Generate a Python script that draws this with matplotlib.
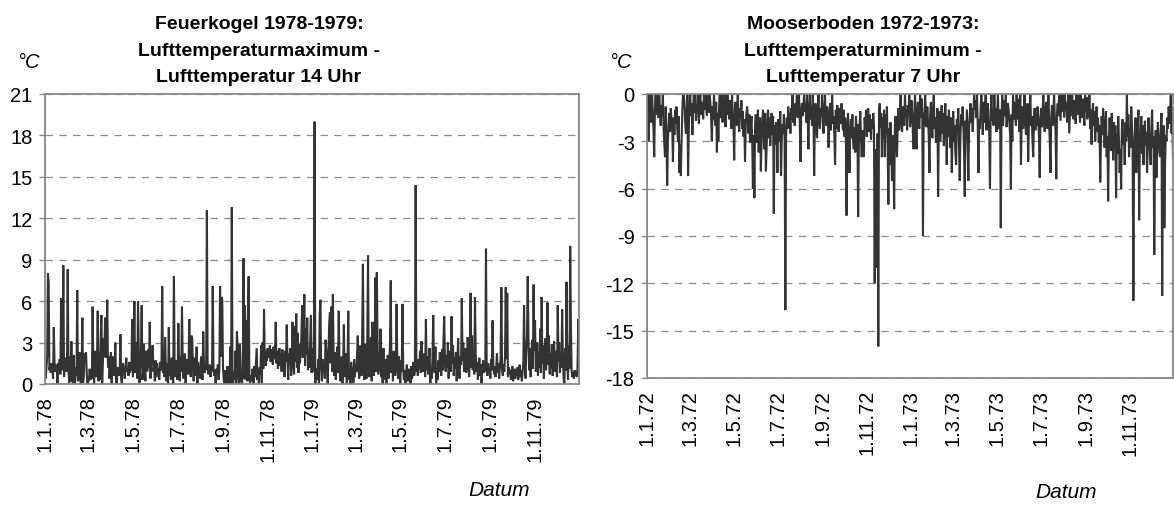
import matplotlib
matplotlib.use('Agg')
import matplotlib.pyplot as plt
import pandas as pd

plt.rcParams['font.family'] = ['Liberation Sans', 'DejaVu Sans']

# Feuerkogel 1978-1979: daily Tmax - T(14 Uhr), degC
feuer_start = '1978-01-01'
feuer_vals = [
    0.5, 0.4, 1.2, 2.0, 8.0, 7.4, 1.0, 1.3, 0.8, 1.5, 1.1, 0.4, 4.1, 1.6, 0.9, 1.4, 1.2, 0.0, 1.5, 1.0, 1.8, 0.7, 6.2, 1.0, 1.6, 8.6, 0.5, 1.9, 1.2, 0.9,
    1.0, 8.3, 1.1, 0.1, 2.0, 0.2, 3.1, 0.4, 0.1, 2.1, 0.3, 0.0, 1.2, 0.6, 6.8, 0.2, 1.1, 2.3, 0.3, 0.0, 1.0, 4.8, 0.1, 0.6, 2.2, 1.9, 2.3, 0.8, 0.0, 0.5,
    0.2, 1.1, 0.3, 0.9, 0.4, 5.6, 1.2, 0.0, 1.4, 2.4, 0.5, 1.8, 5.3, 0.2, 2.2, 0.3, 3.3, 5.0, 0.0, 1.5, 3.3, 2.0, 4.8, 1.9, 3.3, 6.1, 1.2, 2.0, 0.4, 1.1,
    2.3, 0.0, 2.0, 1.0, 0.6, 0.9, 3.0, 0.1, 0.0, 1.2, 0.8, 0.6, 1.0, 3.6, 0.3, 0.0, 1.5, 1.2, 1.0, 0.4, 1.4, 1.9, 0.9, 1.1, 0.6, 1.6, 0.8, 1.2, 1.0, 4.7,
    0.5, 1.7, 6.0, 0.8, 1.0, 3.0, 0.4, 6.0, 2.6, 0.1, 1.4, 2.2, 5.7, 0.3, 1.0, 2.9, 1.3, 0.2, 2.4, 1.6, 0.9, 2.5, 1.2, 4.5, 0.4, 1.8, 1.4, 2.8, 0.9, 1.3,
    0.2, 1.7, 0.5, 1.5, 0.9, 1.1, 0.3, 1.6, 1.0, 1.2, 7.1, 0.8, 1.3, 0.5, 3.4, 1.1, 0.2, 1.5, 0.0, 4.1, 0.6, 1.4, 0.3, 1.9, 0.8, 0.0, 7.8, 1.0, 0.5, 1.7,
    1.2, 0.3, 4.4, 1.4, 0.2, 2.0, 0.9, 5.6, 1.6, 0.4, 1.1, 2.2, 0.0, 1.3, 1.8, 0.7, 1.5, 4.7, 1.0, 0.5, 3.5, 3.3, 1.2, 0.2, 1.9, 0.6, 1.1, 2.7, 0.0, 1.6,
    0.9, 1.3, 0.4, 2.0, 1.1, 0.3, 3.8, 1.5, 0.8, 1.2, 1.0, 12.6, 1.3, 0.7, 1.0, 1.4, 0.5, 1.1, 0.9, 7.1, 1.2, 0.6, 1.0, 0.0, 1.1, 0.8, 1.4, 0.3, 1.0, 7.1,
    2.0, 6.3, 6.1, 1.2, 0.3, 0.0, 1.0, 0.2, 0.0, 1.3, 0.4, 0.0, 0.8, 2.7, 0.0, 12.8, 0.1, 0.0, 0.9, 0.3, 2.4, 0.0, 3.8, 2.6, 0.5, 0.0, 2.9, 1.1, 0.2, 0.0,
    0.8, 9.1, 0.4, 5.7, 0.3, 4.6, 0.2, 4.7, 7.8, 0.3, 0.1, 0.6, 0.2, 1.1, 0.4, 0.0, 1.3, 0.5, 1.5, 2.6, 0.3, 1.0, 0.0, 1.2, 0.7, 2.8, 0.1, 3.0, 1.1, 5.4,
    2.1, 1.3, 2.4, 1.7, 2.6, 1.9, 2.2, 2.8, 1.6, 2.5, 2.0, 1.4, 2.7, 1.8, 2.3, 4.5, 1.5, 2.4, 1.1, 2.0, 2.6, 1.3, 2.2, 0.9, 2.5, 1.7, 2.1, 0.5, 2.4, 1.6,
    4.3, 1.9, 0.3, 2.2, 1.5, 2.6, 0.6, 1.8, 4.5, 1.4, 0.7, 4.2, 1.6, 5.1, 1.2, 3.7, 0.8, 2.9, 1.5, 2.2, 3.4, 5.7, 1.9, 2.8, 6.5, 1.3, 4.0, 2.1, 4.8, 1.0,
    2.4, 1.2, 3.1, 5.0, 0.8, 2.6, 1.4, 0.9, 19.0, 0.0, 1.1, 0.6, 0.3, 1.8, 0.0, 5.0, 6.1, 1.3, 0.2, 1.8, 0.9, 1.5, 0.4, 3.2, 2.5, 1.1, 0.0, 2.4, 4.4, 5.2,
    1.5, 5.6, 0.9, 6.5, 1.8, 0.6, 2.3, 0.3, 1.4, 2.7, 0.8, 5.3, 1.6, 0.2, 1.1, 2.0, 0.0, 1.3, 4.3, 0.5, 1.0, 2.2, 0.0, 1.4, 5.3, 0.3, 0.9, 0.0, 1.6, 0.4,
    1.2, 0.1, 1.8, 0.5, 1.4, 0.9, 2.1, 3.5, 1.0, 0.4, 2.8, 1.7, 0.6, 3.3, 8.7, 1.2, 0.3, 2.9, 1.1, 0.4, 3.4, 9.3, 1.0, 0.5, 2.6, 3.4, 0.2, 4.5, 1.3, 0.6,
    1.4, 7.7, 0.9, 8.1, 3.0, 0.7, 2.2, 1.0, 4.0, 0.5, 1.9, 0.0, 2.6, 1.2, 0.3, 1.8, 0.0, 1.5, 2.1, 0.4, 1.2, 3.1, 7.5, 0.8, 1.6, 0.2, 2.4, 1.0, 0.6, 1.5,
    5.8, 1.1, 0.4, 2.0, 1.3, 0.0, 1.7, 0.9, 5.8, 1.2, 0.3, 1.0, 0.0, 0.8, 1.4, 0.2, 0.5, 1.1, 0.7, 0.0, 1.3, 0.4, 0.9, 1.6, 0.6, 1.0, 14.4, 0.9, 1.3, 0.6,
    1.8, 1.1, 2.4, 0.8, 3.1, 1.5, 0.9, 2.2, 1.3, 0.5, 4.7, 1.0, 2.0, 0.7, 1.6, 2.6, 0.0, 1.2, 0.4, 1.9, 5.0, 1.4, 0.8, 2.7, 0.0, 1.1, 0.3, 1.7, 0.9, 2.3,
    1.3, 0.6, 2.5, 1.0, 3.2, 4.9, 1.6, 0.9, 2.1, 1.2, 3.0, 0.4, 1.8, 2.4, 0.9, 4.9, 1.5, 2.8, 0.6, 1.9, 1.1, 2.3, 0.2, 1.6, 3.3, 1.0, 0.4, 2.0, 1.4, 6.2,
    1.7, 3.0, 0.9, 1.5, 2.6, 0.8, 1.3, 3.4, 1.9, 0.5, 2.1, 6.6, 1.2, 3.5, 1.0, 2.4, 0.7, 6.3, 2.2, 0.9, 1.6, 0.3, 1.2, 1.9, 0.6, 1.4, 0.0, 1.1, 1.7, 0.8,
    1.3, 0.9, 9.8, 1.1, 0.6, 1.5, 0.9, 1.2, 0.4, 1.8, 1.0, 4.6, 1.4, 0.7, 1.3, 0.5, 1.2, 2.2, 0.8, 1.5, 0.4, 1.1, 1.9, 7.0, 1.0, 0.6, 1.4, 0.9, 2.0, 7.0,
    1.8, 6.6, 0.5, 1.2, 0.8, 1.0, 0.3, 0.9, 1.3, 0.2, 0.7, 1.1, 0.4, 1.0, 0.6, 1.2, 0.3, 0.8, 1.4, 0.5, 1.0, 0.2, 0.9, 1.6, 5.7, 1.3, 0.4, 2.1, 3.5, 7.8,
    3.5, 1.0, 2.6, 0.5, 1.8, 3.2, 1.1, 7.2, 2.4, 4.6, 0.9, 1.7, 3.0, 0.6, 2.3, 1.2, 4.0, 0.8, 6.3, 1.5, 2.8, 0.4, 1.9, 3.3, 1.0, 2.5, 5.9, 1.4, 3.5, 0.7,
    2.2, 1.1, 2.9, 0.6, 1.8, 3.1, 0.9, 2.4, 1.3, 0.5, 5.7, 1.6, 3.0, 0.8, 2.2, 1.2, 5.4, 1.9, 0.4, 0.0, 2.6, 1.0, 7.4, 1.5, 0.3, 2.8, 1.1, 10.0, 4.0, 0.9,
    0.5, 0.8, 0.4, 1.0, 0.6, 0.9, 0.5, 1.2, 4.7, 0.8,
]

# Mooserboden 1972-1973: daily Tmin - T(7 Uhr), degC
moos_start = '1972-01-01'
moos_vals = [
    -2.1, 0.0, -3.0, -1.2, 0.0, -1.0, -1.8, 0.0, -1.1, -2.3, -4.0, -1.0, 0.0, -1.3, 0.0, -0.9, -1.5, 0.0, -1.1, -2.0, -0.7, -1.4, 0.0, -2.2, -3.1, -4.0, -0.8, -2.6, -5.8, -3.1,
    -2.0, -1.2, -2.4, -0.9, -1.6, -2.1, -4.3, -1.5, -2.6, -1.0, -1.9, -0.8, -2.2, -3.0, -1.4, -5.0, -3.2, -5.2, -2.9, -1.1, 0.0, 0.0, -0.6, -1.8, -2.5, -1.4, 0.0, -5.2, -2.3, -0.7,
    0.0, -1.4, -0.6, -2.6, -0.9, 0.0, -1.2, 0.0, -1.7, -0.8, -1.1, 0.0, -1.9, -0.6, 0.0, -1.3, -0.5, -0.9, -1.6, 0.0, -1.0, 0.0, -0.7, -1.4, 0.0, -0.8, -1.2, 0.0, -0.6, -1.5,
    -3.0, -0.8, -1.6, 0.0, -1.1, -2.0, -0.5, -3.7, -1.2, -3.0, -0.9, 0.0, -1.5, 0.0, -0.7, -1.8, 0.0, -1.0, -0.5, -2.1, 0.0, -1.3, 0.0, -0.8, -1.6, -0.4, -1.1, -2.2, 0.0, -1.4,
    -1.9, -4.2, -1.0, -0.5, -2.0, -1.3, 0.0, -1.7, -2.4, -0.9, -1.5, -0.4, -2.2, -1.1, -2.7, -1.6, -4.3, -2.0, -1.2, -0.8, -1.6, -2.5, -1.3, -3.1, -2.0, -1.4, -3.0, -6.0, -2.6, -6.6,
    -2.0, -1.3, -3.1, -2.4, -1.0, -3.7, -2.2, -1.5, -4.9, -3.0, -1.8, -1.0, -2.6, -3.5, -1.2, -4.9, -3.5, -2.0, -1.0, -2.8, -1.5, -3.3, -2.1, -1.2, -2.6, -1.4, -7.6, -2.0, -3.2, -1.8,
    -2.4, -5.0, -1.6, -3.0, -2.2, -1.1, -5.2, -3.0, -1.9, -2.5, -1.3, -2.8, -13.7, -2.7, -1.5, -2.2, -0.8, -1.9, -1.2, -2.5, -0.9, -1.6, 0.0, -1.8, -1.1, -2.0, -0.6, -1.3, 0.0, -1.5,
    -1.0, 0.0, -1.7, -4.3, -1.2, -0.6, -1.4, -0.9, 0.0, -1.1, -0.7, -1.8, 0.0, -1.3, -3.5, -1.0, 0.0, -1.6, -0.8, -2.0, 0.0, -1.2, -5.2, -1.5, -0.6, -1.9, -2.8, -1.0, 0.0, -1.7,
    -2.2, -0.9, -1.4, 0.0, -1.8, -2.5, -1.1, 0.0, -1.6, -2.0, -0.8, -1.3, -3.4, -1.7, -0.6, -2.3, -1.2, 0.0, -1.9, -1.4, -2.6, -4.5, -1.0, -2.2, -0.7, -1.5, -2.4, -0.9, -1.3, -1.9,
    -0.6, -1.8, -2.3, -1.0, -2.7, -1.5, -2.9, -7.7, -2.0, -1.2, -3.1, -5.0, -2.4, -1.6, -2.8, -1.3, -3.0, -3.5, -2.1, -3.7, -1.4, -2.6, -1.9, -7.8, -3.2, -2.0, -1.1, -2.7, -4.0, -2.3,
    -2.6, -4.0, -1.5, -2.2, -1.0, -2.7, -1.8, -0.9, -2.4, -1.3, -2.0, -2.9, -1.6, -2.2, -1.2, -2.0, -12.0, -3.5, -11.0, -9.5, -2.5, -16.0, -1.0, -0.6, -2.1, -1.2, -4.0, -1.5, -2.8, -1.0,
    -4.0, -1.3, -2.5, -0.8, -3.4, -7.0, -2.2, -4.5, -1.8, -3.1, -5.5, -2.6, -3.9, -7.3, -2.0, -1.4, -3.0, -4.0, -1.8, -0.9, -2.3, -1.1, 0.0, -1.7, -2.4, -0.8, -1.2, -2.0, 0.0, -1.5,
    -1.0, -2.3, -0.7, -1.4, 0.0, -2.1, -1.6, -0.4, -1.2, -2.5, -3.5, -1.3, 0.0, -2.0, -3.5, -1.1, -0.5, -1.8, -2.2, 0.0, -1.5, -0.3, -1.0, -9.0, -1.2, -2.0, 0.0, -1.4, -2.1, -0.8,
    -1.7, -2.6, -5.0, -1.3, -0.5, -1.9, -2.8, -1.0, 0.0, -2.2, -1.5, -3.1, -2.0, -0.9, -6.5, -2.4, -1.1, -3.0, -1.6, -0.7, -2.5, -1.2, -3.3, -1.8, -0.6, -2.0, -4.5, -1.4, -2.7, -1.0,
    -2.2, -3.4, -1.5, -5.0, -2.6, -1.1, -3.0, -2.0, -3.8, -4.5, -1.6, -2.4, -0.9, -3.2, -5.5, -2.7, -1.3, -2.0, -0.8, -1.9, -3.6, -6.5, -1.7, -2.8, -1.0, -3.3, -5.5, -2.1, -1.4, -0.6,
    -1.8, -0.9, -2.4, -1.2, 0.0, -1.0, -0.4, -1.5, 0.0, -2.0, -5.0, -1.6, -2.2, -1.0, 0.0, -1.4, -2.6, -0.5, -1.1, -1.8, 0.0, -2.3, -1.3, -0.6, -1.9, -2.5, -6.0, -1.2, 0.0, -1.7,
    -1.1, -2.0, 0.0, -1.5, -0.9, -2.4, -1.3, 0.0, -1.8, -2.2, -1.0, -8.5, -1.6, 0.0, -2.0, -1.2, -0.4, -1.4, 0.0, -2.1, -1.5, -0.6, -1.1, -1.9, -2.6, -6.0, -1.3, -3.0, 0.0, -1.6,
    -0.5, -1.2, -2.0, 0.0, -1.6, -0.3, -1.1, -2.4, 0.0, -4.5, -1.5, -0.8, -2.2, -1.0, 0.0, -1.8, -2.6, -1.3, -0.6, -4.3, -1.9, -1.1, 0.0, -2.0, -1.4, -3.0, -4.0, -1.7, -0.9, -2.3,
    -1.3, -2.0, -0.8, -1.5, -2.7, -5.3, -1.6, -0.9, -2.1, -1.2, 0.0, -1.8, -2.4, -1.0, -0.5, -1.4, -2.2, 0.0, -1.7, -3.1, -5.0, -1.5, -0.7, -2.0, -1.1, 0.0, -1.6, -2.3, -5.4, -1.2,
    -0.6, -1.4, 0.0, -0.9, -1.7, 0.0, -1.1, 0.0, -0.7, -1.5, 0.0, -1.0, -0.5, -1.8, -0.8, 0.0, -2.5, -1.2, 0.0, -1.4, 0.0, -0.9, -1.6, -0.4, -1.1, -1.9, 0.0, -0.8, -1.3, 0.0,
    -1.0, -1.8, 0.0, -0.7, -1.5, -0.3, -1.2, -2.0, 0.0, -1.1, -0.2, -1.6, -0.9, -1.4, 0.0, -2.2, -1.0, -3.2, -1.3, -0.6, -2.0, -1.1, -3.0, -1.7, -0.8, -2.4, -1.5, -3.1, -2.0, -5.6,
    -3.0, -1.4, -2.6, -0.9, -1.9, -3.4, -2.2, -1.1, -4.0, -2.7, -6.8, -3.0, -1.5, -2.4, -3.6, -1.2, -2.8, -4.2, -1.8, -3.3, -2.0, -6.6, -2.5, -3.8, -1.4, -2.9, -5.0, -3.5, -6.0, -2.2,
    -1.6, -3.2, -2.5, -4.5, -1.8, -3.0, 0.0, -2.7, -1.3, -4.0, -2.2, -3.4, -0.8, -2.0, -3.5, -13.1, -3.6, -2.4, -1.5, -5.0, -3.5, -2.2, -1.0, -8.0, -3.1, -2.6, -1.4, -3.8, -2.0, -4.5,
    -2.9, -1.7, -3.3, -2.4, -5.0, -3.0, -1.5, -2.6, -3.8, -4.5, -2.2, -1.0, -3.4, -2.7, -10.2, -4.1, -2.3, -5.3, -3.0, -1.8, -2.6, -3.7, -4.0, -2.5, -1.2, -12.8, -3.5, -2.0, -8.5, -4.4,
    -2.6, -3.0, -1.5, -2.2, -0.8, -1.9, -1.0, 0.0, -2.5, -1.3, -4.2,
]

feuer_title = 'Feuerkogel 1978-1979:\nLufttemperaturmaximum -\nLufttemperatur 14 Uhr'
moos_title = 'Mooserboden 1972-1973:\nLufttemperaturminimum -\nLufttemperatur 7 Uhr'

LINE = '#333333'
FRAME = '#868686'
W, H = 1174, 506


def draw_panel(ax, start, values, ylim, yticks):
    dates = pd.date_range(start, periods=len(values), freq='D')
    ax.plot(dates, values, color=LINE, lw=1.5, solid_joinstyle='miter')
    ax.set_xlim(dates[0], dates[-1])
    ax.set_ylim(*ylim)
    ax.set_yticks(yticks)
    ax.set_yticklabels([str(t) for t in yticks])

    ticks = pd.date_range(start, periods=12, freq='2MS').to_pydatetime()
    ax.set_xticks(ticks)
    ax.set_xticklabels([f"{d.day}.{d.month}.{d:%y}" for d in ticks], rotation=90)

    ax.yaxis.grid(True, linestyle=(0, (6, 5)), color='#8c8c8c', lw=0.9)
    ax.set_axisbelow(True)
    for sp in ax.spines.values():
        sp.set_color(FRAME)
        sp.set_linewidth(1.3)
    ax.tick_params(axis='y', length=4, width=1, color=FRAME, pad=5, labelsize=14.5)
    ax.tick_params(axis='x', length=0, pad=8, labelsize=14.5)


fig = plt.figure(figsize=(W / 100, H / 100), dpi=100)

ax1 = fig.add_axes([45 / W, 1 - 385 / H, (579 - 45) / W, (385 - 95) / H])
draw_panel(ax1, feuer_start, feuer_vals, (0, 21), list(range(0, 22, 3)))

ax2 = fig.add_axes([647 / W, 1 - 379 / H, (1173 - 647) / W, (379 - 95) / H])
draw_panel(ax2, moos_start, moos_vals, (-18, 0), list(range(-18, 1, 3)))

fig.text(259 / W, 1 - 51 / H, feuer_title, ha='center', va='center',
         fontsize=14, fontweight='bold', linespacing=1.75)
fig.text(863 / W, 1 - 51 / H, moos_title, ha='center', va='center',
         fontsize=14, fontweight='bold', linespacing=1.75)

fig.text(28 / W, 1 - 62 / H, '°C', ha='center', va='center', fontsize=14.5, style='italic')
fig.text(620 / W, 1 - 62 / H, '°C', ha='center', va='center', fontsize=14.5, style='italic')
fig.text(499 / W, 1 - 491 / H, 'Datum', ha='center', va='center', fontsize=15, style='italic')
fig.text(1066 / W, 1 - 493 / H, 'Datum', ha='center', va='center', fontsize=15, style='italic')

fig.savefig('out.png', dpi=100, facecolor='white')
